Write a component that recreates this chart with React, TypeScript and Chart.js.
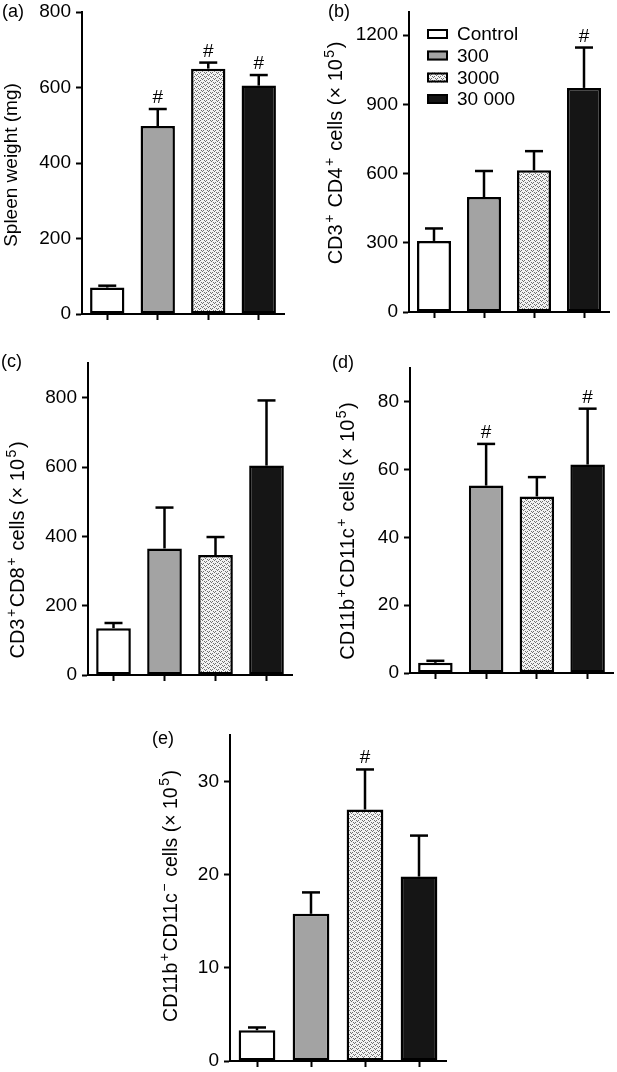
import React, { useEffect, useRef } from 'react';
import { Chart, registerables } from 'chart.js';

Chart.register(...registerables);

// ---------------- data ----------------
const groups = ['Control', '300', '3000', '30 000'];

const spleenWeight = [70, 498, 650, 605];
const spleenWeightErr = [5, 45, 16, 28];
const spleenWeightSig = [false, true, true, true];

const cd4Cells = [308, 498, 614, 971];
const cd4CellsErr = [54, 113, 83, 175];
const cd4CellsSig = [false, false, false, true];

const cd8Cells = [135, 365, 346, 604];
const cd8CellsErr = [15, 118, 52, 188];
const cd8CellsSig = [false, false, false, false];

const cd11cPosCells = [3.0, 55.3, 52.1, 61.5];
const cd11cPosCellsErr = [0.6, 12.3, 5.7, 16.5];
const cd11cPosCellsSig = [false, true, false, true];

const cd11cNegCells = [3.3, 15.8, 27.0, 19.8];
const cd11cNegCellsErr = [0.3, 2.3, 4.3, 4.4];
const cd11cNegCellsSig = [false, false, true, false];

const yAxisLabels = [
  'Spleen weight (mg)',
  'CD3^{+} CD4^{+} cells (× 10^{5})',
  'CD3^{+}CD8^{+} cells (× 10^{5})',
  'CD11b^{+}CD11c^{+} cells (× 10^{5})',
  'CD11b^{+}CD11c^{−} cells (× 10^{5})',
];
const panelLetters = ['(a)', '(b)', '(c)', '(d)', '(e)'];
const yMaxes = [800, 1300, 900, 90, 35];
const ySteps = [200, 300, 200, 20, 10];

// ---------------- styling / layout ----------------
const FONT = "'Liberation Sans', Arial, Helvetica, sans-serif";
const INK = '#000000';

type PanelCfg = {
  left: number; top: number; w: number; h: number;
  plotLeft: number; plotTop: number; plotRight: number; plotBottom: number;
  values: number[]; errs: number[]; sig: boolean[];
  max: number; step: number;
  letter: string; letterX: number; letterY: number;
  label: string; labelX: number; labelY: number; labelSize: number;
  legend?: boolean;
};

const panels: PanelCfg[] = [
  { left: 0, top: 0, w: 300, h: 345, plotLeft: 82, plotTop: 12, plotRight: 284, plotBottom: 314,
    values: spleenWeight, errs: spleenWeightErr, sig: spleenWeightSig, max: yMaxes[0], step: ySteps[0],
    letter: panelLetters[0], letterX: 2, letterY: 12, label: yAxisLabels[0], labelX: 10, labelY: 165, labelSize: 19 },
  { left: 300, top: 0, w: 317, h: 345, plotLeft: 409, plotTop: 12, plotRight: 609, plotBottom: 312,
    values: cd4Cells, errs: cd4CellsErr, sig: cd4CellsSig, max: yMaxes[1], step: ySteps[1],
    letter: panelLetters[1], letterX: 328, letterY: 12, label: yAxisLabels[1], labelX: 335, labelY: 153, labelSize: 20, legend: true },
  { left: 0, top: 345, w: 300, h: 355, plotLeft: 88, plotTop: 363, plotRight: 292, plotBottom: 675,
    values: cd8Cells, errs: cd8CellsErr, sig: cd8CellsSig, max: yMaxes[2], step: ySteps[2],
    letter: panelLetters[2], letterX: 1, letterY: 362, label: yAxisLabels[2], labelX: 17, labelY: 550, labelSize: 20 },
  { left: 300, top: 345, w: 317, h: 355, plotLeft: 410, plotTop: 368, plotRight: 613, plotBottom: 673,
    values: cd11cPosCells, errs: cd11cPosCellsErr, sig: cd11cPosCellsSig, max: yMaxes[3], step: ySteps[3],
    letter: panelLetters[3], letterX: 332, letterY: 363, label: yAxisLabels[3], labelX: 347, labelY: 531, labelSize: 20 },
  { left: 140, top: 700, w: 340, h: 372, plotLeft: 230, plotTop: 735, plotRight: 446, plotBottom: 1061,
    values: cd11cNegCells, errs: cd11cNegCellsErr, sig: cd11cNegCellsSig, max: yMaxes[4], step: ySteps[4],
    letter: panelLetters[4], letterX: 152, letterY: 739, label: yAxisLabels[4], labelX: 170, labelY: 896, labelSize: 19.5 },
];

function makePattern(ctx: CanvasRenderingContext2D): CanvasPattern | string {
  const c = document.createElement('canvas');
  c.width = 6; c.height = 4;
  const g = c.getContext('2d');
  if (!g) return '#d8d8d8';
  g.fillStyle = '#f2f2f2';
  g.fillRect(0, 0, 6, 4);
  g.fillStyle = '#6e6e6e';
  g.fillRect(0, 0, 1, 1);
  g.fillRect(2, 0, 1, 1);
  g.fillRect(1, 1, 1, 1);
  g.fillRect(3, 2, 1, 1);
  g.fillRect(5, 2, 1, 1);
  g.fillRect(4, 3, 1, 1);
  return ctx.createPattern(c, 'repeat') || '#d8d8d8';
}

function parseRich(text: string) {
  const parts = text.split(/(\^\{[^}]*\})/).filter((p) => p.length > 0);
  return parts.map((p) => (p.startsWith('^{') ? { t: p.slice(2, -1), sup: true } : { t: p, sup: false }));
}

function drawRotatedRich(ctx: CanvasRenderingContext2D, text: string, cx: number, cy: number, size: number) {
  const parts = parseRich(text);
  const mainFont = `${size}px ${FONT}`;
  const supFont = `${Math.round(size * 0.72)}px ${FONT}`;
  const supGap = 1.5;
  let total = 0;
  const widths = parts.map((p) => {
    ctx.font = p.sup ? supFont : mainFont;
    const w = ctx.measureText(p.t).width + (p.sup ? supGap * 2 : 0);
    total += w;
    return w;
  });
  ctx.save();
  ctx.translate(cx, cy);
  ctx.rotate(-Math.PI / 2);
  ctx.fillStyle = INK;
  ctx.textAlign = 'left';
  ctx.textBaseline = 'alphabetic';
  let x = -total / 2;
  const base = size * 0.36;
  parts.forEach((p, i) => {
    ctx.font = p.sup ? supFont : mainFont;
    ctx.fillText(p.t, x + (p.sup ? supGap : 0), p.sup ? base - size * 0.42 : base);
    x += widths[i];
  });
  ctx.restore();
}

const decoPlugin = {
  id: 'panelDeco',
  afterDatasetsDraw(chart: any, _args: any, opts: any) {
    const ctx: CanvasRenderingContext2D = chart.ctx;
    const cfg: PanelCfg = opts.cfg;
    const meta = chart.getDatasetMeta(0);
    const yScale = chart.scales.y;
    ctx.save();
    ctx.strokeStyle = INK;
    ctx.lineWidth = 2.5;
    ctx.lineCap = 'butt';
    meta.data.forEach((el: any, i: number) => {
      const v = cfg.values[i];
      const e = cfg.errs[i];
      const yTop = yScale.getPixelForValue(v);
      const yErr = yScale.getPixelForValue(v + e);
      ctx.beginPath();
      ctx.moveTo(el.x, yTop);
      ctx.lineTo(el.x, yErr);
      ctx.stroke();
      ctx.beginPath();
      ctx.moveTo(el.x - 9, yErr);
      ctx.lineTo(el.x + 9, yErr);
      ctx.stroke();
      if (cfg.sig[i]) {
        ctx.fillStyle = INK;
        ctx.font = `19px ${FONT}`;
        ctx.textAlign = 'center';
        ctx.textBaseline = 'alphabetic';
        ctx.fillText('#', el.x, yErr - 6);
      }
    });
    ctx.restore();
  },
  afterDraw(chart: any, _args: any, opts: any) {
    const ctx: CanvasRenderingContext2D = chart.ctx;
    const cfg: PanelCfg = opts.cfg;
    const ox = cfg.left;
    const oy = cfg.top;
    ctx.save();
    ctx.fillStyle = INK;
    ctx.font = `18px ${FONT}`;
    ctx.textAlign = 'left';
    ctx.textBaseline = 'middle';
    ctx.fillText(cfg.letter, cfg.letterX - ox, cfg.letterY - oy);
    drawRotatedRich(ctx, cfg.label, cfg.labelX - ox, cfg.labelY - oy, cfg.labelSize);
    if (cfg.legend) {
      const fills = chart.data.datasets[0].backgroundColor;
      const rows = [34, 55.5, 77.5, 99];
      groups.forEach((g, i) => {
        const bx = 427 - ox;
        const by = rows[i] - oy;
        ctx.fillStyle = fills[i];
        ctx.fillRect(bx, by - 5, 21, 10);
        ctx.strokeStyle = INK;
        ctx.lineWidth = 2;
        ctx.strokeRect(bx + 1, by - 4, 19, 8);
        ctx.fillStyle = INK;
        ctx.font = `19px ${FONT}`;
        ctx.textBaseline = 'middle';
        ctx.fillText(g, 457 - ox, by + 1);
      });
    }
    ctx.restore();
  },
};

function Panel({ cfg }: { cfg: PanelCfg }) {
  const ref = useRef<HTMLCanvasElement>(null);
  useEffect(() => {
    const canvas = ref.current;
    if (!canvas) return;
    const ctx = canvas.getContext('2d') as CanvasRenderingContext2D;
    const pattern = makePattern(ctx);
    const xH = 20;
    const yW = cfg.plotLeft - cfg.left;
    const padTop = cfg.plotTop - cfg.top;
    const padRight = cfg.left + cfg.w - cfg.plotRight;
    const padBottom = cfg.top + cfg.h - cfg.plotBottom - xH;
    const step = cfg.step;
    const chart = new Chart(canvas, {
      type: 'bar',
      data: {
        labels: groups,
        datasets: [
          {
            data: cfg.values,
            backgroundColor: ['#ffffff', '#a3a3a3', pattern as any, '#151515'],
            borderColor: INK,
            borderWidth: 2.5,
            borderSkipped: false,
            barPercentage: 0.68,
            categoryPercentage: 1,
          },
        ],
      },
      options: {
        animation: false,
        responsive: false,
        events: [],
        layout: { padding: { left: 0, top: padTop, right: padRight, bottom: padBottom } },
        plugins: {
          legend: { display: false },
          tooltip: { enabled: false },
          title: { display: false },
          panelDeco: { cfg },
        } as any,
        scales: {
          x: {
            type: 'category',
            offset: true,
            grid: {
              display: true,
              drawOnChartArea: false,
              offset: false,
              drawTicks: true,
              tickLength: 6,
              tickWidth: 2,
              tickColor: INK,
            },
            border: { display: true, width: 2, color: INK },
            ticks: { display: false },
            afterFit: (s: any) => {
              s.height = xH;
              s.paddingLeft = 0;
              s.paddingRight = 0;
            },
          },
          y: {
            min: 0,
            max: cfg.max,
            ticks: {
              stepSize: step,
              padding: 5,
              color: INK,
              font: { family: FONT, size: 19 },
              callback: (v: any) => String(v),
            },
            grid: {
              drawOnChartArea: false,
              drawTicks: true,
              tickLength: 6,
              tickWidth: 2,
              tickColor: INK,
            },
            border: { display: true, width: 2, color: INK },
            afterBuildTicks: (s: any) => {
              s.ticks = s.ticks.filter((t: any) => Math.abs(t.value / step - Math.round(t.value / step)) < 1e-9);
            },
            afterFit: (s: any) => {
              s.width = yW;
              s.paddingTop = 0;
              s.paddingBottom = 0;
            },
          },
        } as any,
      },
      plugins: [decoPlugin as any],
    });
    return () => chart.destroy();
  }, [cfg]);
  return (
    <canvas
      ref={ref}
      width={cfg.w}
      height={cfg.h}
      style={{ position: 'absolute', left: cfg.left, top: cfg.top, width: cfg.w, height: cfg.h }}
    />
  );
}

export default function App() {
  return (
    <div style={{ position: 'absolute', left: 0, top: 0, width: 617, height: 1072, background: '#ffffff', overflow: 'hidden' }}>
      {panels.map((p, i) => (
        <Panel key={i} cfg={p} />
      ))}
    </div>
  );
}
